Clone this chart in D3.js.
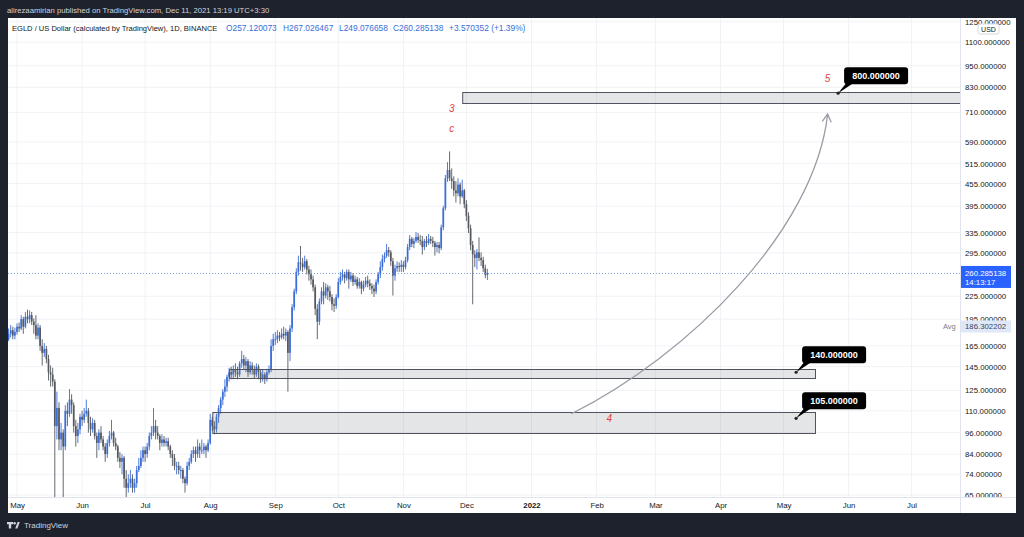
<!DOCTYPE html>
<html><head><meta charset="utf-8">
<script src="https://cdn.jsdelivr.net/npm/d3@7"></script>
<style>
html,body{margin:0;padding:0;background:#1e222d;}
svg{display:block;font-family:"Liberation Sans",Arial,sans-serif;}
</style></head><body>
<svg id="c" width="1024" height="537"></svg>
<script>
// ---------------- DATA ----------------
const startDate = "2021-04-27";      // first daily bar
const firstOpen = 172;               // open of the first bar (later opens = previous close, 24h market)
const closes = [
  178,182,176,180,
  186,184,195,186,198,195,200,192,188,176,185,165,158,162,152,140,138,132,100,112,92,96,88,110,108,118,114,100,94,98,106,
  104,108,110,102,98,102,94,90,96,92,88,84,90,94,96,90,88,82,80,82,72,68,70,72,68,70,76,78,82,86,
  84,88,94,96,100,96,94,90,92,90,91,88,84,82,78,78,76,76,72,70,78,80,84,86,84,88,86,86,88,86,90,
  104,100,98,106,112,118,124,128,136,140,138,142,140,138,148,152,146,150,140,146,142,138,145,140,134,138,134,140,142,165,172,
  172,176,174,178,176,180,158,184,210,232,262,278,276,270,280,266,258,250,238,208,192,218,232,226,238,232,224,214,212,224,
  246,254,258,252,262,250,256,246,250,240,246,236,242,248,244,240,236,232,246,258,270,284,290,300,296,280,256,268,272,270,274,
  270,282,306,322,312,318,326,320,318,306,318,314,322,318,314,306,310,304,346,390,470,495,470,462,436,428,452,420,436,400,
  372,344,310,292,286,296,286,282,268,257.12,260.285138
];
const highs = [
  184,188,186,185,
  190,191,200,198,204,207,206,204,196,200,190,188,172,168,165,156,146,144,134,124,116,102,98,114,116,126,122,116,104,102,108,
  110,112,118,112,106,105,104,96,98,100,94,90,92,97,104,97,93,89,85,84,83,76,74,76,74,72,78,82,86,88,
  88,90,96,100,112,104,100,95,95,94,93,93,89,86,84,80,80,78,77,73,80,82,86,88,88,92,90,92,90,89,92,
  108,106,103,108,114,120,126,134,138,144,145,146,148,145,150,160,156,154,152,150,149,146,148,147,142,142,140,143,146,172,178,
  180,182,180,184,186,184,182,188,214,236,268,290,308,286,290,284,272,266,256,242,214,222,238,246,244,242,240,228,222,228,
  252,262,266,262,266,266,262,260,256,254,252,248,248,254,256,250,244,242,250,262,280,292,296,312,306,300,286,274,280,278,282,
  280,288,312,330,326,324,336,334,330,328,322,328,332,328,326,318,316,316,352,396,480,520,556,500,476,462,470,458,466,440,
  410,380,352,318,300,302,325,296,288,274,267.026467
];
const lows = [
  170,174,172,172,
  177,180,182,178,184,190,190,188,178,172,172,160,146,154,148,133,128,128,64,92,86,86,64,86,100,106,108,96,88,90,95,
  100,102,106,96,94,96,92,82,86,90,86,80,82,88,92,88,86,80,77,74,68,62,66,68,66,66,68,75,77,80,
  80,82,86,92,94,92,92,86,88,88,88,86,82,78,76,74,74,72,70,66,69,76,79,82,80,82,82,84,84,82,85,
  89,97,95,96,102,108,114,120,124,132,134,134,136,134,136,144,142,140,136,138,138,135,136,134,131,132,130,132,138,140,160,
  166,168,170,172,172,170,124,150,180,206,228,256,264,262,266,258,248,242,232,200,172,188,214,214,222,220,218,206,204,208,
  222,242,248,244,248,236,246,240,242,236,236,228,232,238,238,234,228,224,228,242,252,264,278,286,288,272,226,248,262,262,262,
  262,266,278,300,306,304,314,314,310,292,300,306,310,312,306,290,296,294,300,340,385,460,462,440,420,404,420,400,416,390,
  360,334,300,214,270,266,280,272,262,252,249.076658
];
const monthTicks = ["2021-05-01","2021-06-01","2021-07-01","2021-08-01","2021-09-01","2021-10-01","2021-11-01","2021-12-01",
                    "2022-01-01","2022-02-01","2022-03-01","2022-04-01","2022-05-01","2022-06-01","2022-07-01"];
const monthLabels = ["May","Jun","Jul","Aug","Sep","Oct","Nov","Dec","2022","Feb","Mar","Apr","May","Jun","Jul"];
const priceTicks = [65,74,84,96,110,125,145,165,195,225,295,335,395,455,515,590,710,830,950,1100,1250];
const lastPrice = 260.285138, lastOpen = 257.120073, barCountdown = "14:13:17";
const avgPrice = 186.302202;
// legend values
const legendTitle = "EGLD / US Dollar (calculated by TradingView), 1D, BINANCE";
const legendValues = ["O257.120073","H267.026467","L249.076658","C260.285138","+3.570352 (+1.39%)"];
// rectangles (zones)
const zoneStarts  = ["2021-11-29","2021-08-10","2021-08-02"];
const zoneEnds    = ["2022-09-30","2022-05-16","2022-05-16"];
const zoneTops    = [805, 143, 109];
const zoneBottoms = [751, 135, 95.5];
// price callouts
const calloutTexts  = ["800.000000","140.000000","105.000000"];
const calloutPrices = [800, 140, 105];
const calloutDates  = ["2022-05-27","2022-05-07","2022-05-07"];
// red wave labels
const waveTexts  = ["5","3","c","4"];
const waveDates  = ["2022-05-22","2021-11-24","2021-11-24","2022-02-07"];
const wavePrices = [878, 728, 643, 105];
// curved arrow (start, control 1, control 2, end)
const arrowDates  = ["2022-01-20","2022-03-17","2022-05-16","2022-05-22"];
const arrowPrices = [108, 156, 340, 702];

// ---------------- LAYOUT ----------------
const P = {left:8, right:960, top:18, bottom:497, paneRight:1016, paneBottom:513};
const parse = d3.utcParse("%Y-%m-%d");
const svg = d3.select("#c");
const x = d3.scaleUtc().domain([parse("2021-05-01"), parse("2022-07-01")]).range([17, 911.6]);
const y = d3.scaleLog().domain([830, 74]).range([87.3, 474.3]);

const t0 = parse(startDate);
const bars = closes.map((c,i)=>({date:d3.utcDay.offset(t0,i), o: i===0?firstOpen:(i===closes.length-1?lastOpen:closes[i-1]), h:highs[i], l:lows[i], c}));

// pane background
svg.append("rect").attr("x",P.left).attr("y",P.top).attr("width",P.paneRight-P.left).attr("height",P.paneBottom-P.top).attr("fill","#fff");

const defs = svg.append("defs");
defs.append("clipPath").attr("id","plot").append("rect").attr("x",P.left).attr("y",P.top).attr("width",P.right-P.left).attr("height",P.bottom-P.top);
defs.append("clipPath").attr("id","yax").append("rect").attr("x",P.right).attr("y",P.top).attr("width",P.paneRight-P.right).attr("height",P.bottom-P.top);

const plot = svg.append("g").attr("clip-path","url(#plot)");
// grid
plot.append("g").selectAll("line").data(monthTicks).join("line")
  .attr("x1",d=>x(parse(d))).attr("x2",d=>x(parse(d))).attr("y1",P.top).attr("y2",P.bottom)
  .attr("stroke","#f0f2f6").attr("stroke-width",1);
plot.append("g").selectAll("line").data(priceTicks).join("line")
  .attr("y1",d=>y(d)).attr("y2",d=>y(d)).attr("x1",P.left).attr("x2",P.right)
  .attr("stroke","#f0f2f6").attr("stroke-width",1);

// candles
const upC = "#3b6dd7", dnC = "#55585f";
const cg = plot.append("g");
cg.selectAll("line").data(bars).join("line")
  .attr("x1",d=>x(d.date)).attr("x2",d=>x(d.date))
  .attr("y1",d=>y(d.h)).attr("y2",d=>y(d.l))
  .attr("stroke",d=>d.c>=d.o?upC:dnC).attr("stroke-width",0.9);
cg.selectAll("rect").data(bars).join("rect")
  .attr("x",d=>x(d.date)-0.85).attr("width",1.7)
  .attr("y",d=>y(Math.max(d.o,d.c)))
  .attr("height",d=>Math.max(1,Math.abs(y(d.o)-y(d.c))))
  .attr("fill",d=>d.c>=d.o?upC:dnC);

// zones
plot.append("g").selectAll("rect").data(zoneTops).join("rect")
  .attr("x",(d,i)=>x(parse(zoneStarts[i]))+0.5)
  .attr("width",(d,i)=>x(parse(zoneEnds[i]))-x(parse(zoneStarts[i])))
  .attr("y",(d,i)=>Math.round(y(zoneTops[i]))+0.5)
  .attr("height",(d,i)=>Math.round(y(zoneBottoms[i]))-Math.round(y(zoneTops[i])))
  .attr("fill","rgba(120,123,134,0.2)").attr("stroke","#50535e").attr("stroke-width",1);

// current price dotted line
plot.append("line").attr("x1",P.left).attr("x2",P.right)
  .attr("y1",Math.round(y(lastPrice))+0.5).attr("y2",Math.round(y(lastPrice))+0.5)
  .attr("stroke","#5b86e0").attr("stroke-width",1).attr("stroke-dasharray","1,2").attr("opacity",0.8);

// curved arrow
const ap = arrowDates.map((d,i)=>[x(parse(d)), y(arrowPrices[i])]);
const cp = d3.path();
cp.moveTo(ap[0][0],ap[0][1]); cp.bezierCurveTo(ap[1][0],ap[1][1],ap[2][0],ap[2][1],ap[3][0],ap[3][1]);
plot.append("path").attr("d",cp.toString()).attr("fill","none").attr("stroke","#9a9da6").attr("stroke-width",1.3);
{
  const ang = Math.atan2(ap[3][1]-ap[2][1], ap[3][0]-ap[2][0]);
  const L = 9, a = Math.PI/6;
  const tip = ap[3];
  const p1 = [tip[0]-L*Math.cos(ang-a), tip[1]-L*Math.sin(ang-a)];
  const p2 = [tip[0]-L*Math.cos(ang+a), tip[1]-L*Math.sin(ang+a)];
  plot.append("path").attr("d",`M${p1}L${tip}L${p2}`).attr("fill","none").attr("stroke","#9a9da6").attr("stroke-width",1.3);
}

// red wave labels
plot.append("g").selectAll("text").data(waveTexts).join("text")
  .attr("x",(d,i)=>x(parse(waveDates[i]))).attr("y",(d,i)=>y(wavePrices[i]))
  .attr("dy","0.35em").attr("text-anchor","middle")
  .attr("font-size",10).attr("font-style","italic").attr("fill","#e5413b").text(d=>d);

// callouts
const cgr = svg.append("g");
calloutTexts.forEach((t,i)=>{
  const px = x(parse(calloutDates[i])), py = y(calloutPrices[i]);
  const bx = px+6, by = py-26, bw = 64, bh = 17;
  cgr.append("path").attr("d",`M${px},${py}L${bx+2},${by+bh-1}L${bx+9},${by+bh-1}Z`).attr("fill","#000");
  cgr.append("rect").attr("x",bx).attr("y",by).attr("width",bw).attr("height",bh).attr("rx",3).attr("fill","#000");
  cgr.append("circle").attr("cx",px).attr("cy",py).attr("r",1.6).attr("fill","#222");
  cgr.append("text").attr("x",bx+bw/2).attr("y",by+bh/2).attr("dy","0.35em").attr("text-anchor","middle")
    .attr("font-size",9).attr("font-weight","bold").attr("fill","#fff").text(t);
});

// legend
const lg = svg.append("g");
lg.append("text").attr("x",12).attr("y",31).attr("font-size",7.55).attr("fill","#131722").text(legendTitle);
const legX = [226,283,339,393,449];
lg.selectAll("text.v").data(legendValues).join("text").attr("class","v").attr("font-size",8.4)
  .attr("x",(d,i)=>legX[i]).attr("y",31).attr("fill","#3b6dd7").text(d=>d);

// axes separators
svg.append("line").attr("x1",P.right+0.5).attr("x2",P.right+0.5).attr("y1",P.top).attr("y2",P.paneBottom).attr("stroke","#e0e3eb");
svg.append("line").attr("x1",P.left).attr("x2",P.paneRight).attr("y1",P.bottom+0.5).attr("y2",P.bottom+0.5).attr("stroke","#e0e3eb");

// price axis
const ya = svg.append("g").attr("clip-path","url(#yax)").append("g").attr("transform",`translate(${P.right},0)`)
  .call(d3.axisRight(y).tickValues(priceTicks).tickFormat(d3.format(".6f")).tickSize(0).tickPadding(5));
ya.select(".domain").remove();
ya.selectAll("text").attr("font-family","Liberation Sans, Arial, sans-serif").attr("font-size",7.8).attr("fill","#131722");

// USD box
svg.append("rect").attr("x",978).attr("y",24).attr("width",21).attr("height",10).attr("rx",2).attr("fill","#fff").attr("stroke","#d6d9e0");
svg.append("text").attr("x",988.5).attr("y",29.3).attr("dy","0.35em").attr("text-anchor","middle").attr("font-size",7).attr("fill","#131722").text("USD");

// Avg label
const ay = y(avgPrice);
svg.append("rect").attr("x",P.right+1).attr("y",ay-6).attr("width",50).attr("height",12).attr("fill","#dfe8f8");
svg.append("text").attr("x",P.right+5).attr("y",ay).attr("dy","0.35em").attr("font-size",7.8).attr("fill","#3a4766").text(d3.format(".6f")(avgPrice));
svg.append("text").attr("x",P.right-17).attr("y",ay).attr("dy","0.35em").attr("font-size",7.5).attr("fill","#787b86").text("Avg");

// current price label
const ly = y(lastPrice);
svg.append("rect").attr("x",P.right+1).attr("y",ly-7).attr("width",50).attr("height",22).attr("fill","#2962ff");
svg.append("text").attr("x",P.right+5).attr("y",ly).attr("dy","0.35em").attr("font-size",7.8).attr("fill","#fff").text(d3.format(".6f")(lastPrice));
svg.append("text").attr("x",P.right+5).attr("y",ly+9).attr("dy","0.35em").attr("font-size",7.8).attr("fill","#fff").text(barCountdown);

// time axis
const xa = svg.append("g").attr("transform",`translate(0,${P.bottom})`)
  .call(d3.axisBottom(x).tickValues(monthTicks.map(parse)).tickFormat((d,i)=>monthLabels[i]).tickSize(0).tickPadding(5));
xa.select(".domain").remove();
xa.selectAll("text").attr("font-family","Liberation Sans, Arial, sans-serif").attr("font-size",7.8).attr("fill","#131722")
  .attr("font-weight",(d,i)=>monthLabels[i]==="2022"?"bold":"normal");

// header
svg.append("text").attr("x",7).attr("y",12.5).attr("font-size",7.7).attr("fill","#d1d4dc")
  .text("alirezaamirian published on TradingView.com, Dec 11, 2021 13:19 UTC+3:30");

// footer logo
const fg = svg.append("g").attr("fill","#d1d4dc");
fg.append("path").attr("d","M7,522h6v2.2h-1.8v4.3h-2.4v-4.3H7Z");
fg.append("circle").attr("cx",14.6).attr("cy",523.2).attr("r",1.2);
fg.append("path").attr("d","M15.2,528.5L17.6,522h2.2l-2.4,6.5Z");
fg.append("text").attr("x",24).attr("y",528).attr("font-size",8).text("TradingView");
</script>
</body></html>
